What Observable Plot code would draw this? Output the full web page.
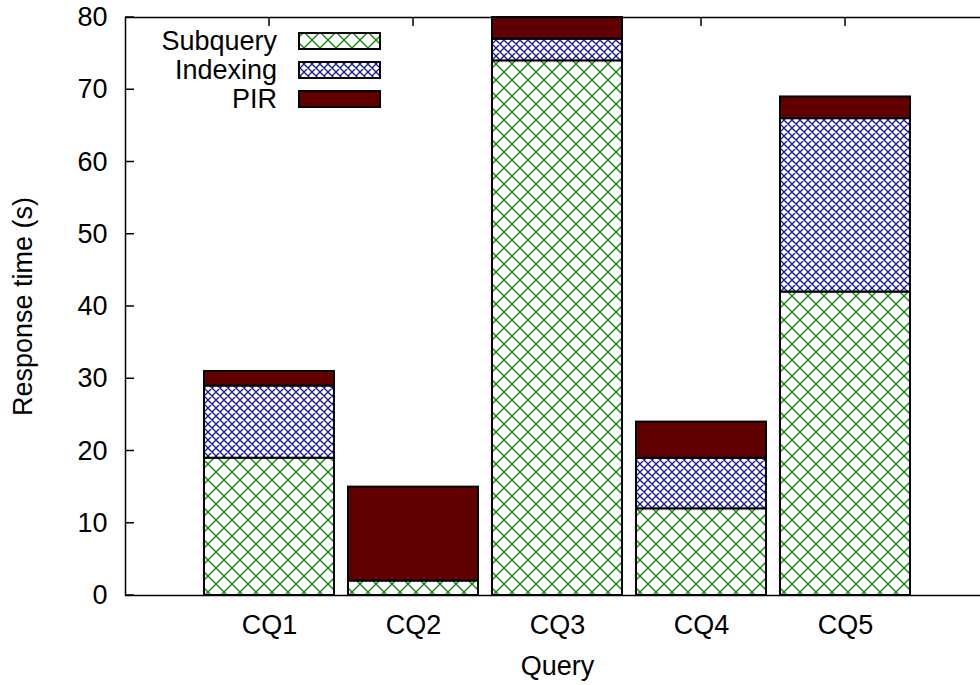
<!DOCTYPE html>
<html>
<head>
<meta charset="utf-8">
<script src="https://cdn.jsdelivr.net/npm/d3@7"></script>
<script src="https://cdn.jsdelivr.net/npm/@observablehq/plot@0.6"></script>
<style>
  html, body { margin: 0; padding: 0; background: white; overflow: hidden; }
  #chart { width: 980px; height: 685px; overflow: hidden; position: relative; }
</style>
</head>
<body>
<div id="chart"></div>
<script>
// ---- data ----
const queries = ["CQ1", "CQ2", "CQ3", "CQ4", "CQ5"];
const series = ["Subquery", "Indexing", "PIR"];
const subquery = [19, 2, 74, 12, 42];
const indexing = [10, 0, 3, 7, 24];
const pir = [2, 13, 3, 5, 3];
const yTicks = [0, 10, 20, 30, 40, 50, 60, 70, 80];
const seriesFill = ["url(#hatchGreen)", "url(#hatchBlue)", "#600000"];

const values = {Subquery: subquery, Indexing: indexing, PIR: pir};
const data = queries.flatMap((q, i) => series.map(s => ({query: q, series: s, value: values[s][i]})));

const FONT = "'Liberation Sans', Arial, Helvetica, sans-serif";
const FS = 27;

const chart = Plot.plot({
  width: 989,
  height: 685,
  marginLeft: 125,
  marginRight: 0,
  marginTop: 17,
  marginBottom: 90,
  style: {fontFamily: FONT, fontSize: FS + "px", background: "white", maxWidth: "none", color: "black"},
  x: {domain: queries, paddingInner: 14 / 144, paddingOuter: 0.5486},
  y: {domain: [0, 80]},
  color: {domain: series, range: seriesFill, type: "ordinal"},
  marks: [
    Plot.barY(data, {x: "query", y: "value", fill: "series", stroke: "black", strokeWidth: 2}),
    Plot.frame({stroke: "black", strokeWidth: 1.5}),
    Plot.axisY(yTicks, {tickSize: 0, tickPadding: 18, fontSize: FS, label: "Response time (s)", labelArrow: "none", labelAnchor: "center", labelOffset: 113}),
    Plot.axisX({tickSize: 0, tickPadding: 19, fontSize: FS, label: "Query", labelArrow: "none", labelAnchor: "center", labelOffset: 79})
  ]
});
document.getElementById("chart").appendChild(chart);

const svg = d3.select(chart);
// patterns
const defs = svg.insert("defs", ":first-child");
function hatch(id, size, color, width) {
  const p = defs.append("pattern").attr("id", id).attr("patternUnits", "userSpaceOnUse")
    .attr("width", size).attr("height", size);
  p.append("rect").attr("width", size).attr("height", size).attr("fill", "white");
  p.append("path").attr("d", `M0,0L${size},${size}M${size},0L0,${size}M-1,${size-1}L1,${size+1}M${size-1},-1L${size+1},1`)
    .attr("stroke", color).attr("stroke-width", width).attr("fill", "none");
}
hatch("hatchGreen", 16, "#0b800b", 1.3);
hatch("hatchBlue", 8, "#1414a0", 1.3);

// inward ticks (drawn beneath the bars)
const ys = chart.scale("y"), xs = chart.scale("x");
const tg = svg.insert("g", "g").attr("stroke", "black").attr("stroke-width", 1.5);
yTicks.forEach(v => {
  const y = ys.apply(v);
  tg.append("line").attr("x1", 125).attr("x2", 134).attr("y1", y).attr("y2", y);
});
queries.forEach(q => {
  const x = xs.apply(q) + xs.bandwidth / 2;
  tg.append("line").attr("x1", x).attr("x2", x).attr("y1", 17).attr("y2", 26);
  tg.append("line").attr("x1", x).attr("x2", x).attr("y1", 595).attr("y2", 586);
});

// legend
const lg = svg.append("g").attr("font-family", FONT).attr("font-size", FS);
series.forEach((s, i) => {
  const cy = 41 + 29 * i;
  lg.append("text").attr("x", 277).attr("y", cy).attr("dy", "0.35em").attr("text-anchor", "end").attr("fill", "black").text(s);
  lg.append("rect").attr("x", 299).attr("y", cy - 8).attr("width", 81).attr("height", 16)
    .attr("fill", seriesFill[i]).attr("stroke", "black").attr("stroke-width", 2);
});
</script>
</body>
</html>
